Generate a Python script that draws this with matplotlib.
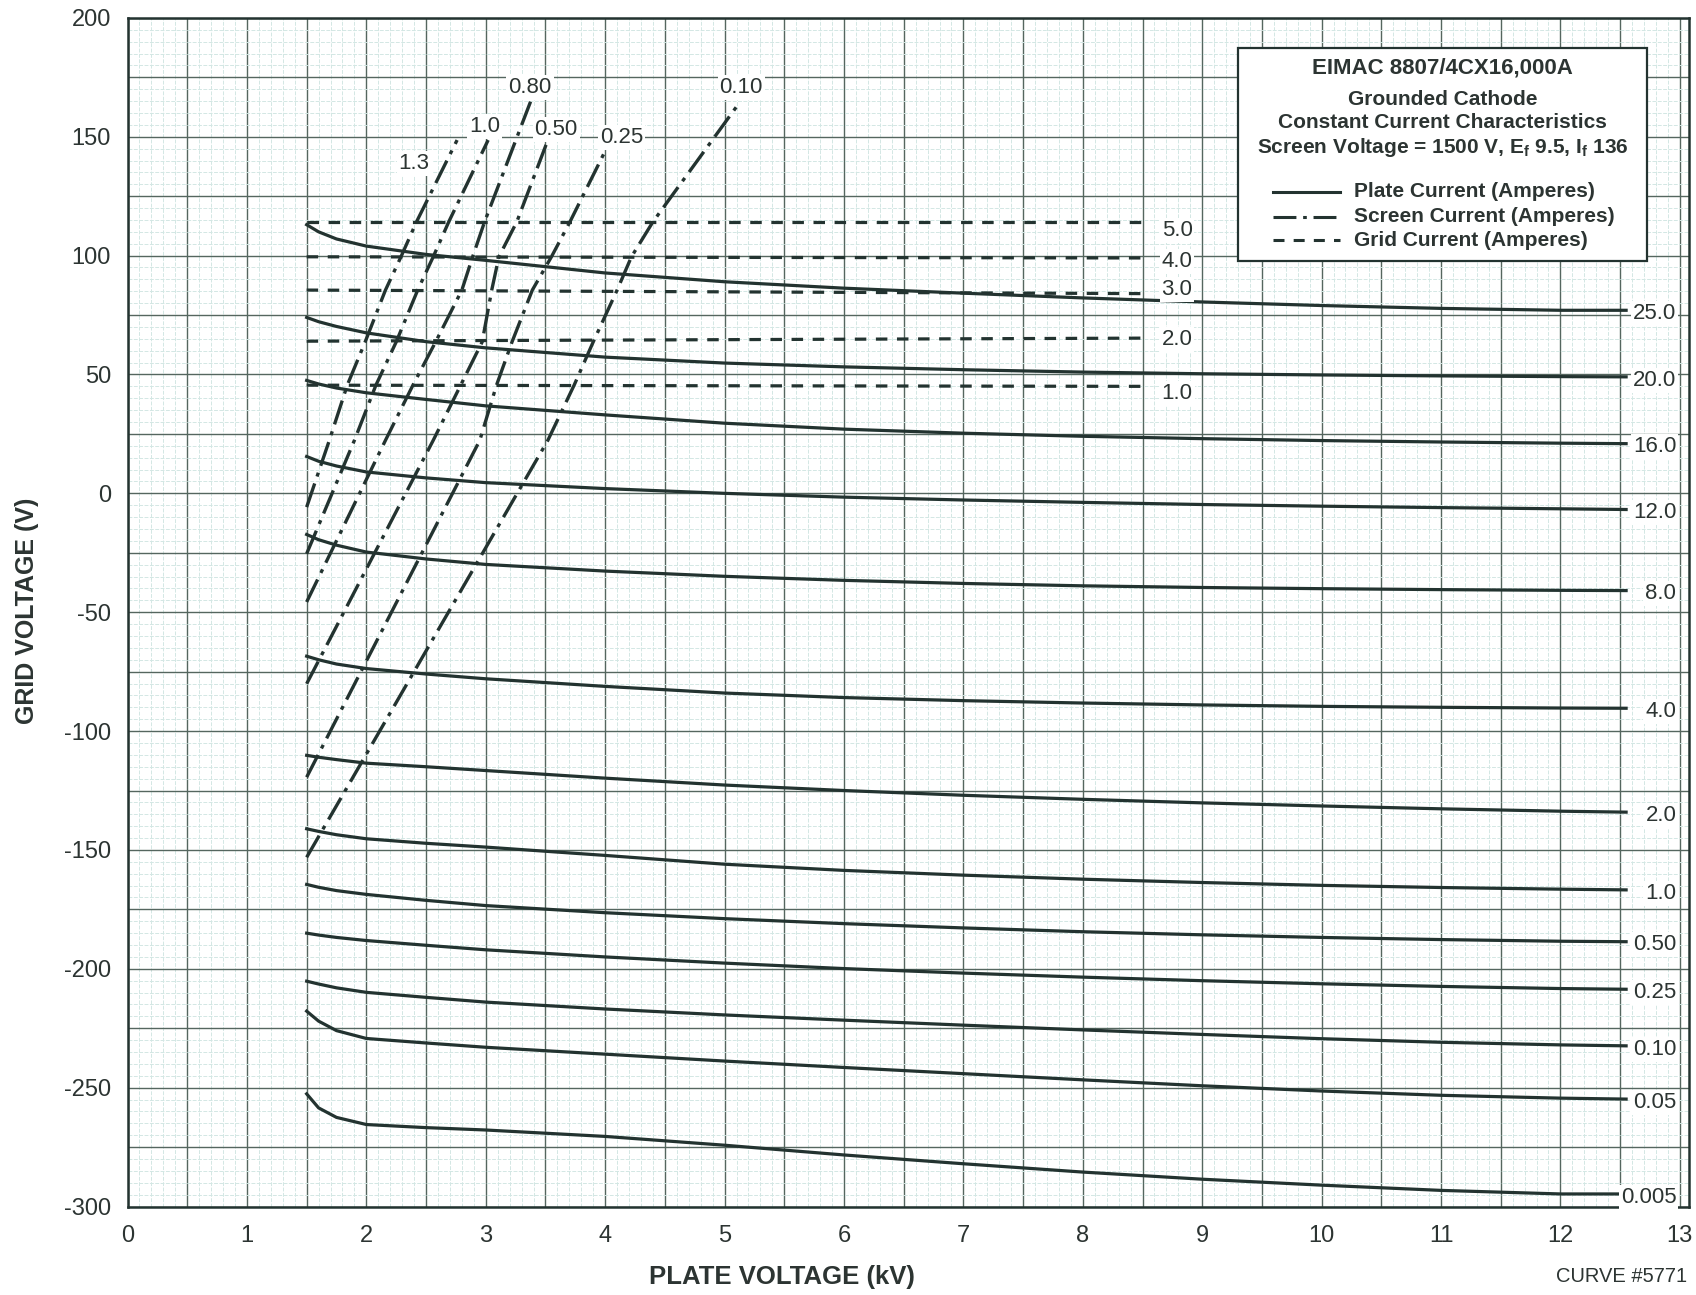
import matplotlib
matplotlib.use("Agg")
import matplotlib.pyplot as plt
from matplotlib.ticker import MultipleLocator, FuncFormatter
from matplotlib.patches import Rectangle

plt.rcParams['font.family'] = ['Liberation Sans', 'DejaVu Sans']
plt.rcParams['mathtext.fontset'] = 'custom'
plt.rcParams['mathtext.rm'] = 'Liberation Sans'
plt.rcParams['mathtext.bf'] = 'Liberation Sans:bold'

# ---- plate current curves (solid), grid voltage vs plate voltage ----
plate_x = [1.5, 1.6, 1.75, 2.0, 2.5, 3.0, 4.0, 5.0, 6.0, 7.0, 8.0, 9.0, 10.0, 11.0, 12.0, 12.55]
plate_labels = ['25.0', '20.0', '16.0', '12.0', '8.0', '4.0', '2.0', '1.0',
                '0.50', '0.25', '0.10', '0.05', '0.005']
plate_25 = [113.0, 110.0, 107.0, 104.0, 100.5, 98.0, 92.7, 89.0, 86.3, 84.2, 82.2, 80.5, 79.0, 77.8, 77.0, 77.0]
plate_20 = [74.0, 72.2, 70.2, 67.5, 63.8, 61.2, 57.3, 54.8, 53.2, 52.0, 51.0, 50.3, 49.8, 49.4, 49.1, 49.0]
plate_16 = [47.5, 46.0, 44.3, 42.3, 39.5, 36.8, 33.0, 29.5, 27.0, 25.3, 24.0, 23.0, 22.2, 21.6, 21.1, 20.9]
plate_12 = [15.5, 13.5, 11.5, 9.0, 6.5, 4.5, 2.0, 0.0, -1.6, -2.8, -3.8, -4.7, -5.4, -6.0, -6.5, -6.8]
plate_8 = [-17.3, -19.5, -21.8, -24.7, -27.6, -29.9, -32.7, -34.9, -36.6, -37.9, -38.9, -39.6, -40.1, -40.5, -40.8, -40.9]
plate_4 = [-68.5, -70.0, -71.8, -73.7, -76.0, -78.0, -81.2, -84.0, -85.9, -87.2, -88.2, -89.0, -89.6, -90.0, -90.3, -90.4]
plate_2 = [-110.2, -111.0, -112.0, -113.5, -115.0, -116.6, -119.8, -122.7, -125.0, -127.0, -128.7, -130.2, -131.5, -132.7, -133.7, -134.1]
plate_1 = [-141.1, -142.2, -143.6, -145.3, -147.2, -148.8, -152.3, -156.0, -158.6, -160.6, -162.3, -163.7, -164.9, -165.8, -166.5, -166.8]
plate_050 = [-164.5, -165.7, -167.1, -168.7, -171.2, -173.4, -176.4, -178.9, -181.0, -182.8, -184.4, -185.7, -186.8, -187.7, -188.4, -188.6]
plate_025 = [-185.0, -185.8, -186.8, -188.1, -190.1, -192.0, -195.0, -197.6, -199.9, -201.8, -203.5, -205.0, -206.3, -207.4, -208.3, -208.6]
plate_010 = [-205.2, -206.4, -208.0, -209.9, -212.0, -214.0, -216.9, -219.4, -221.6, -223.7, -225.7, -227.6, -229.4, -230.9, -232.0, -232.4]
plate_005 = [-217.8, -222.0, -226.0, -229.3, -231.2, -233.0, -235.9, -238.8, -241.5, -244.1, -246.7, -249.2, -251.4, -253.2, -254.4, -254.8]
plate_0005 = [-252.6, -258.5, -262.5, -265.5, -266.8, -267.8, -270.5, -274.2, -278.3, -282.0, -285.5, -288.5, -291.0, -293.2, -294.7, -294.7]
plate_y = [plate_25, plate_20, plate_16, plate_12, plate_8, plate_4, plate_2, plate_1,
           plate_050, plate_025, plate_010, plate_005, plate_0005]

# ---- screen current curves (dash-dot) ----
screen_labels = ['1.3', '1.0', '0.80', '0.50', '0.25', '0.10']
screen_x = [
    [1.5, 1.69, 1.84, 1.99, 2.16, 2.29, 2.42, 2.76],
    [1.5, 1.90, 2.08, 2.25, 2.43, 2.56, 2.69, 3.02],
    [1.5, 2.16, 2.39, 2.58, 2.80, 2.89, 2.99, 3.38],
    [1.5, 2.56, 2.79, 2.97, 3.05, 3.11, 3.26, 3.52],
    [1.5, 2.95, 3.09, 3.22, 3.39, 3.55, 3.705, 4.025],
    [1.5, 3.52, 3.74, 3.90, 4.10, 4.22, 4.40, 5.13],
]
screen_y = [
    [-5.8, 22.3, 45.5, 63.7, 85.5, 99.5, 114.2, 148.6],
    [-25.4, 22.3, 45.5, 63.7, 85.5, 99.5, 114.2, 148.6],
    [-45.7, 22.3, 45.5, 63.7, 85.5, 99.5, 114.2, 165.4],
    [-80.1, 22.3, 45.5, 63.7, 85.5, 99.5, 114.2, 148.6],
    [-119.4, 22.3, 45.5, 63.7, 85.5, 99.5, 114.2, 146.5],
    [-153.1, 22.3, 45.5, 63.7, 85.5, 99.5, 114.2, 164.7],
]
# label offset from the top end of each screen curve (kV, V)
screen_label_offset = {'1.3': (-0.36, -8.8), '1.0': (-0.03, 6.8), '0.80': (-0.01, 6.3),
                       '0.50': (0.07, 5.6), '0.25': (0.11, 4.2), '0.10': (0.01, 7.2)}

# ---- grid current curves (dashed) ----
grid_labels = ['5.0', '4.0', '3.0', '2.0', '1.0']
grid_x = [1.5, 8.56]
grid_y = [[114.2, 114.2], [99.5, 99.0], [85.5, 84.0], [64.0, 65.3], [45.5, 45.0]]
# vertical nudge of each grid-current label from its line end (V)
grid_label_dy = [-2.6, -0.6, 2.6, 0.6, -2.0]

INK = '#233330'
TXT = '#2c3432'

fig = plt.figure(figsize=(16.96, 12.95), dpi=100)
ax = fig.add_axes([0.0752, 0.0683, 0.9209, 0.9179])
ax.set_xlim(0, 13.08)
ax.set_ylim(-300, 200)

ax.xaxis.set_major_locator(MultipleLocator(0.5))
ax.xaxis.set_minor_locator(MultipleLocator(0.1))
ax.yaxis.set_major_locator(MultipleLocator(25))
ax.yaxis.set_minor_locator(MultipleLocator(5))
ax.xaxis.set_major_formatter(FuncFormatter(
    lambda v, p: '%d' % round(v) if abs(v - round(v)) < 1e-6 else ''))
ax.yaxis.set_major_formatter(FuncFormatter(
    lambda v, p: '%d' % round(v) if round(v) % 50 == 0 else ''))
ax.tick_params(which='both', length=0)
ax.tick_params(axis='x', labelsize=17, pad=13, colors=TXT)
ax.tick_params(axis='y', labelsize=17, pad=12, colors=TXT)

ax.grid(which='minor', color='#d3e7e4', lw=0.7, dashes=(4, 1.5))
ax.grid(which='major', color='#55665f', lw=1.0)
ax.set_axisbelow(True)
for s in ax.spines.values():
    s.set_color(INK)
    s.set_linewidth(1.8)

for lab, ys in zip(plate_labels, plate_y):
    ax.plot(plate_x, ys, color=INK, lw=2.3, solid_joinstyle='round', zorder=3)
    ax.text(12.97, ys[-1] - 0.3, lab, ha='right', va='center_baseline', fontsize=16,
            color=TXT, bbox=dict(fc='white', ec='none', pad=1.5), zorder=4)

for lab, xs, ys in zip(screen_labels, screen_x, screen_y):
    ax.plot(xs, ys, color=INK, lw=2.4, dashes=(7.5, 2.2, 1.2, 2.2), zorder=3)
    dx, dy = screen_label_offset[lab]
    ax.text(xs[-1] + dx, ys[-1] + dy, lab, ha='center', va='center_baseline', fontsize=16,
            color=TXT, bbox=dict(fc='white', ec='none', pad=1.5), zorder=4)

for lab, ys, dy in zip(grid_labels, grid_y, grid_label_dy):
    ax.plot(grid_x, ys, color=INK, lw=2.3, dashes=(3.6, 3.0), zorder=3)
    ax.text(grid_x[-1] + 0.1, ys[-1] + dy, lab, ha='left', va='center_baseline', fontsize=16,
            color=TXT, bbox=dict(fc='white', ec='none', pad=1.5), zorder=4)

# ---- legend box ----
ax.add_patch(Rectangle((9.30, 97.8), 3.425, 89.7, fc='white', ec=INK, lw=1.6, zorder=5))
ax.text(11.015, 178.8, 'EIMAC 8807/4CX16,000A', ha='center', va='center',
        fontsize=16, fontweight='bold', color=TXT, zorder=6)
ax.text(11.015, 165.7, 'Grounded Cathode', ha='center', va='center',
        fontsize=15, fontweight='bold', color=TXT, zorder=6)
ax.text(11.015, 155.9, 'Constant Current Characteristics', ha='center', va='center',
        fontsize=15, fontweight='bold', color=TXT, zorder=6)
ax.text(11.015, 145.5, r'Screen Voltage = 1500 V, E$_\mathbf{f}$ 9.5, I$_\mathbf{f}$ 136',
        ha='center', va='center', fontsize=15, fontweight='bold', color=TXT, zorder=6)

legend_entries = [('Plate Current (Amperes)', None, 126.8),
                  ('Screen Current (Amperes)', (7.5, 2.2, 1.2, 2.2), 116.3),
                  ('Grid Current (Amperes)', (3.6, 3.0), 106.5)]
for text, dash, yy in legend_entries:
    ln, = ax.plot([9.59, 10.15], [yy, yy], color=INK, lw=2.2, zorder=6)
    if dash is not None:
        ln.set_dashes(dash)
    ax.text(10.27, yy, text, ha='left', va='center', fontsize=15,
            fontweight='bold', color=TXT, zorder=6)

fig.text(0.0159, 0.5282, 'GRID VOLTAGE (V)', rotation=90, ha='center', va='center',
         fontsize=18, fontweight='bold', color=TXT)
fig.text(0.4611, 0.0139, 'PLATE VOLTAGE (kV)', ha='center', va='center',
         fontsize=18.5, fontweight='bold', color=TXT)
fig.text(0.9947, 0.0139, 'CURVE #5771', ha='right', va='center',
         fontsize=14.5, color=TXT)

fig.savefig('out.png', dpi=100, facecolor='white')
